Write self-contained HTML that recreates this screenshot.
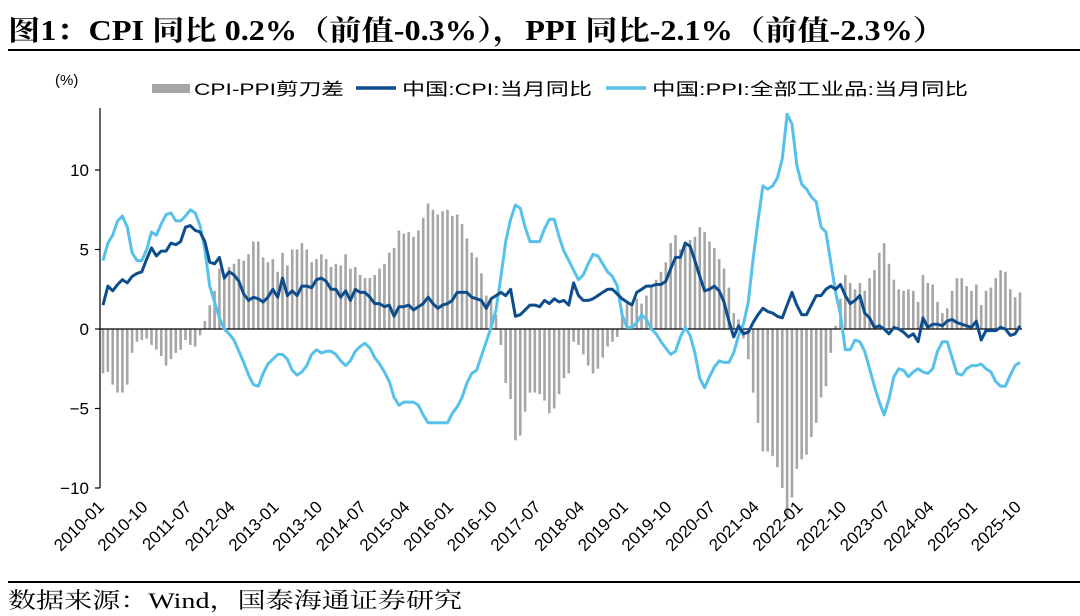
<!DOCTYPE html>
<html><head><meta charset="utf-8"><style>
body{margin:0;background:#fff;width:1080px;height:616px;overflow:hidden}
svg{display:block}
</style></head><body>
<svg id="c" width="1080" height="616" xmlns="http://www.w3.org/2000/svg">
<text x="8" y="40" textLength="937" lengthAdjust="spacingAndGlyphs" font-family="'Liberation Serif','Noto Serif CJK SC',serif" font-size="28" font-weight="bold" fill="#000">图1：CPI 同比 0.2%（前值-0.3%），PPI 同比-2.1%（前值-2.3%）</text>
<line x1="8" y1="50" x2="1080" y2="50" stroke="#000" stroke-width="2"/>
<line x1="8" y1="582" x2="1080" y2="582" stroke="#000" stroke-width="2"/>
<text x="8" y="608" textLength="454" lengthAdjust="spacingAndGlyphs" font-family="'Liberation Serif','Noto Serif CJK SC',serif" font-size="22" fill="#000">数据来源：Wind，国泰海通证券研究</text>
<text x="55" y="85" font-family="'Liberation Sans',sans-serif" font-size="15">(%)</text>
<g font-family="'Liberation Sans','Noto Sans CJK SC',sans-serif" font-size="17">
<rect x="152" y="84" width="38" height="9" fill="#a6a6a6"/>
<text x="194" y="95" textLength="150" lengthAdjust="spacingAndGlyphs">CPI-PPI剪刀差</text>
<line x1="356" y1="88" x2="396" y2="88" stroke="#0d4d8c" stroke-width="3.5"/>
<text x="402" y="95" textLength="190" lengthAdjust="spacingAndGlyphs">中国:CPI:当月同比</text>
<line x1="606" y1="88" x2="646" y2="88" stroke="#57c1ea" stroke-width="3.5"/>
<text x="652" y="95" textLength="316" lengthAdjust="spacingAndGlyphs">中国:PPI:全部工业品:当月同比</text>
</g>
<g id="plot"></g>
</svg>
<script>
const months=[];for(let y=2010;y<=2025;y++)for(let m=1;m<=12;m++){if(y===2025&&m>10)break;months.push(y+'-'+String(m).padStart(2,'0'));}
const cpi=[1.5,2.7,2.4,2.8,3.1,2.9,3.3,3.5,3.6,4.4,5.1,4.6,
4.9,4.9,5.4,5.3,5.5,6.4,6.5,6.2,6.1,5.5,4.2,4.1,
4.5,3.2,3.6,3.4,3.0,2.2,1.8,2.0,1.9,1.7,2.0,2.5,
2.0,3.2,2.1,2.4,2.1,2.7,2.7,2.6,3.1,3.2,3.0,2.5,
2.5,2.0,2.4,1.8,2.5,2.3,2.3,2.0,1.6,1.6,1.4,1.5,
0.8,1.4,1.4,1.5,1.2,1.4,1.6,2.0,1.6,1.3,1.5,1.6,
1.8,2.3,2.3,2.3,2.0,1.9,1.8,1.3,1.9,2.1,2.3,2.1,
2.5,0.8,0.9,1.2,1.5,1.5,1.4,1.8,1.6,1.9,1.7,1.8,
1.5,2.9,2.1,1.8,1.8,1.9,2.1,2.3,2.5,2.5,2.2,1.9,
1.7,1.5,2.3,2.5,2.7,2.7,2.8,2.8,3.0,3.8,4.5,4.5,
5.4,5.2,4.3,3.3,2.4,2.5,2.7,2.4,1.7,0.5,-0.5,0.2,
-0.3,-0.2,0.4,0.9,1.3,1.1,1.0,0.8,0.7,1.5,2.3,1.5,
0.9,0.9,1.5,2.1,2.1,2.5,2.7,2.5,2.8,2.1,1.6,1.8,
2.1,1.0,0.7,0.1,0.2,0.0,-0.3,0.1,0.0,-0.2,-0.5,-0.3,
-0.8,0.7,0.1,0.3,0.3,0.2,0.5,0.6,0.4,0.3,0.2,0.1,
0.5,-0.7,-0.1,-0.1,-0.1,0.1,0.0,-0.4,-0.3,0.2];
const ppi=[4.3,5.4,5.9,6.8,7.1,6.4,4.8,4.3,4.3,5.0,6.1,5.9,
6.6,7.2,7.3,6.8,6.8,7.1,7.5,7.3,6.5,5.0,2.7,1.7,
0.7,0.0,-0.3,-0.7,-1.4,-2.1,-2.9,-3.5,-3.6,-2.8,-2.2,-1.9,
-1.6,-1.6,-1.9,-2.6,-2.9,-2.7,-2.3,-1.6,-1.3,-1.5,-1.4,-1.4,
-1.6,-2.0,-2.3,-2.0,-1.4,-1.1,-0.9,-1.2,-1.8,-2.2,-2.7,-3.3,
-4.3,-4.8,-4.6,-4.6,-4.6,-4.8,-5.4,-5.9,-5.9,-5.9,-5.9,-5.9,
-5.3,-4.9,-4.3,-3.4,-2.8,-2.6,-1.7,-0.8,0.1,1.2,3.3,5.5,
6.9,7.8,7.6,6.4,5.5,5.5,5.5,6.3,6.9,6.9,5.8,4.9,
4.3,3.7,3.1,3.4,4.1,4.7,4.6,4.1,3.6,3.3,2.7,0.9,
0.1,0.1,0.4,0.9,0.6,0.0,-0.3,-0.8,-1.2,-1.6,-1.4,-0.5,
0.1,-0.4,-1.5,-3.1,-3.7,-3.0,-2.4,-2.0,-2.1,-2.1,-1.5,-0.4,
0.3,1.7,4.4,6.8,9.0,8.8,9.0,9.5,10.7,13.5,12.9,10.3,
9.1,8.8,8.3,8.0,6.4,6.1,4.2,2.3,0.9,-1.3,-1.3,-0.7,
-0.8,-1.4,-2.5,-3.6,-4.6,-5.4,-4.4,-3.0,-2.5,-2.6,-3.0,-2.7,
-2.5,-2.7,-2.8,-2.5,-1.4,-0.8,-0.8,-1.8,-2.8,-2.9,-2.5,-2.3,
-2.3,-2.2,-2.5,-2.7,-3.3,-3.6,-3.6,-2.9,-2.3,-2.1];
const yTicks=[-10,-5,0,5,10];
const yTickLabels=['\u221210','\u22125','0','5','10'];
const xTickLabels=['2010-01','2010-10','2011-07','2012-04','2013-01','2013-10','2014-07','2015-04','2016-01','2016-10','2017-07','2018-04','2019-01','2019-10','2020-07','2021-04','2022-01','2022-10','2023-07','2024-04','2025-01','2025-10'];

const NS='http://www.w3.org/2000/svg';
const X0=103,X1=1020,Y0=329,PU=15.9;
const n=months.length;
const xs=i=>X0+(X1-X0)*i/(n-1);
const ys=v=>Y0-v*PU;
const plot=document.getElementById('plot');
function mk(tag,attrs,parent){const e=document.createElementNS(NS,tag);for(const k in attrs)e.setAttribute(k,attrs[k]);(parent||plot).appendChild(e);return e;}

const gb=mk('g',{});


for(let i=0;i<n;i++){const v=cpi[i]-ppi[i];const y=Math.min(ys(v),Y0);const h=Math.abs(ys(v)-Y0);
const r=mk('rect',{x:xs(i)-1.3,y:y,width:2.6,height:h,fill:'#a6a6a6'},gb);

}

const ax=mk('line',{x1:100,y1:108,x2:100,y2:488,stroke:'#000','stroke-width':1.2});


const zl=mk('line',{x1:100,y1:Y0,x2:1022,y2:Y0,stroke:'#000','stroke-width':1.2});


yTicks.forEach((t,k)=>{mk('line',{x1:95,y1:ys(t),x2:100,y2:ys(t),stroke:'#000','stroke-width':1.2});
const tx=mk('text',{x:89,y:ys(t)+6,'text-anchor':'end','font-family':"'Liberation Sans',sans-serif",'font-size':17});
tx.textContent=yTickLabels[k];

});
xTickLabels.forEach(l=>{const i=months.indexOf(l);const x=xs(i)+2;const y=508;
const tx=mk('text',{x:x,y:y,'text-anchor':'end','font-family':"'Liberation Sans',sans-serif",'font-size':17,transform:`rotate(-45 ${x} ${y})`});
tx.textContent=l;

});

function line(arr,color,name){let d='';arr.forEach((v,i)=>{d+=(i?'L':'M')+xs(i).toFixed(1)+','+ys(v).toFixed(1);});
const p=mk('path',{d:d,fill:'none',stroke:color,'stroke-width':3,'stroke-linejoin':'round'});

}
line(ppi,'#57c1ea','ppi-line');
line(cpi,'#0d4d8c','cpi-line');
</script>
</body></html>
